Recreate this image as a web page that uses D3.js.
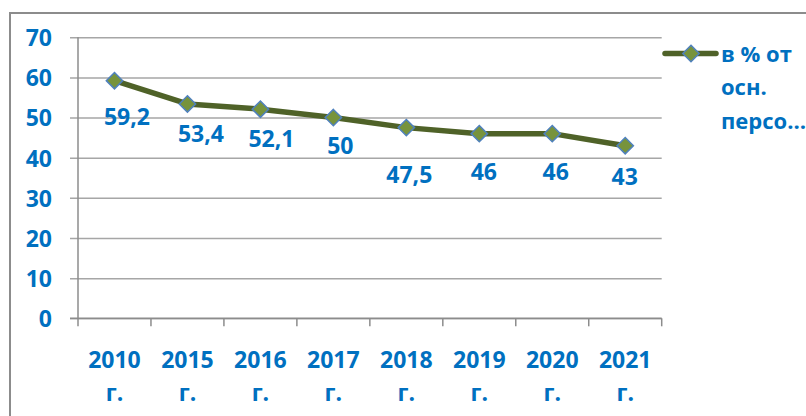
<!DOCTYPE html>
<html>
<head>
<meta charset="utf-8">
<script src="https://cdn.jsdelivr.net/npm/d3@7"></script>
<style>
  html, body { margin: 0; padding: 0; background: #fff; }
  svg { display: block; }
  text { font-family: "Open Sans", "DejaVu Sans", sans-serif; font-weight: 700; fill: #0070C0; }
</style>
</head>
<body>
<svg id="chart" width="806" height="416"></svg>
<script>
// Share of staff over the years (percent)
const years = ["2010", "2015", "2016", "2017", "2018", "2019", "2020", "2021"];
const values = [59.2, 53.4, 52.1, 50, 47.5, 46, 46, 43];
const yTicks = [0, 10, 20, 30, 40, 50, 60, 70];
const seriesName = ["в % от", "осн.", "персо…"];
const yearSuffix = "г.";
// Where each value label sits relative to its marker (px)
const labelOffsets = [[12.5, 36], [13.5, 30], [11, 30], [7, 28], [3, 47.5], [4.5, 38], [3.5, 38], [-0.5, 31]];

const svg = d3.select("#chart");
const W = 806, H = 416;
const FS = 23;

const plot = { left: 78, right: 661.7, top: 37.3, bottom: 318.3 };
const lineColor = "#4F6228";
const markerFill = "#77933C";
const markerStroke = "#4F81BD";
const gridColor = "#A6A6A6";
const axisColor = "#8C8C8C";

// chart frame (only top and left edges visible)
svg.append("path")
  .attr("d", `M10,${H} V13 H${W}`)
  .attr("fill", "none")
  .attr("stroke", "#8C8C8C")
  .attr("stroke-width", 2);

const x = d3.scaleBand().domain(years).range([plot.left, plot.right]).padding(0);
const y = d3.scaleLinear().domain([0, 70]).range([plot.bottom, plot.top]);

// horizontal gridlines + y tick labels
const yAxis = d3.axisLeft(y).tickValues(yTicks).tickSize(-(plot.right - plot.left)).tickPadding(0)
  .tickFormat(d => d);
const gy = svg.append("g").attr("transform", `translate(${plot.left},0)`).call(yAxis);
gy.select(".domain").remove();
gy.selectAll(".tick line")
  .attr("x1", -8)
  .attr("stroke", gridColor)
  .attr("stroke-width", 1.5);
gy.selectAll(".tick text")
  .attr("x", -26)
  .attr("dy", "0.36em")
  .attr("font-size", FS)
  .attr("font-family", null)
  .attr("fill", null)
  .style("text-anchor", "end");

// vertical axis line
svg.append("line")
  .attr("x1", plot.left).attr("x2", plot.left)
  .attr("y1", plot.top).attr("y2", plot.bottom)
  .attr("stroke", axisColor).attr("stroke-width", 1.5);

// category axis: baseline with tick marks at band edges
const gx = svg.append("g").attr("transform", `translate(0,${plot.bottom})`);
gx.append("line")
  .attr("x1", plot.left - 8).attr("x2", plot.right)
  .attr("stroke", axisColor).attr("stroke-width", 1.5);
const edges = years.map(d => x(d)).concat([x(years[years.length - 1]) + x.bandwidth()]);
gx.selectAll("line.tk").data(edges).enter().append("line")
  .attr("class", "tk")
  .attr("x1", d => d).attr("x2", d => d)
  .attr("y1", 0).attr("y2", 8)
  .attr("stroke", axisColor).attr("stroke-width", 1.5);

const cat = svg.append("g").selectAll("text").data(years).enter().append("text")
  .attr("x", d => x(d) + x.bandwidth() / 2)
  .attr("y", 368)
  .attr("font-size", FS)
  .attr("text-anchor", "middle");
cat.append("tspan").attr("x", d => x(d) + x.bandwidth() / 2).text(d => d);
cat.append("tspan").attr("x", d => x(d) + x.bandwidth() / 2).attr("dy", 33).text(yearSuffix);

// series line
const pts = years.map((d, i) => [x(d) + x.bandwidth() / 2, y(values[i])]);
svg.append("path")
  .datum(pts)
  .attr("d", d3.line())
  .attr("fill", "none")
  .attr("stroke", lineColor)
  .attr("stroke-width", 5.5)
  .attr("stroke-linejoin", "round")
  .attr("stroke-linecap", "round");

const diamond = d3.symbol().type(d3.symbolDiamond2).size(170);
svg.append("g").selectAll("path").data(pts).enter().append("path")
  .attr("d", diamond)
  .attr("transform", d => `translate(${d[0]},${d[1]})`)
  .attr("fill", markerFill)
  .attr("stroke", markerStroke)
  .attr("stroke-width", 1.5);

// value labels
svg.append("g").selectAll("text").data(values).enter().append("text")
  .attr("x", (d, i) => pts[i][0] + labelOffsets[i][0])
  .attr("y", (d, i) => pts[i][1] + labelOffsets[i][1])
  .attr("dy", "0.36em")
  .attr("font-size", FS)
  .attr("text-anchor", "middle")
  .text(d => String(d).replace(".", ","));

// legend
const lg = svg.append("g");
lg.append("line")
  .attr("x1", 665).attr("x2", 716).attr("y1", 53.5).attr("y2", 53.5)
  .attr("stroke", lineColor).attr("stroke-width", 5.5).attr("stroke-linecap", "round");
lg.append("path")
  .attr("d", diamond)
  .attr("transform", "translate(691,53.5)")
  .attr("fill", markerFill)
  .attr("stroke", markerStroke)
  .attr("stroke-width", 1.5);
lg.selectAll("text").data(seriesName).enter().append("text")
  .attr("x", 721)
  .attr("y", (d, i) => 61.5 + i * 33.5)
  .attr("font-size", 22)
  .text(d => d);
</script>
</body>
</html>
